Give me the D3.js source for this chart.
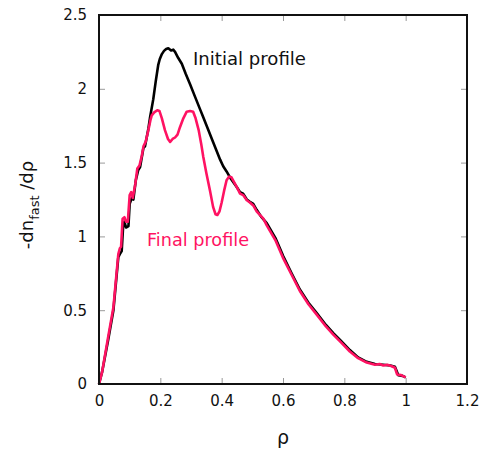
<!DOCTYPE html>
<html><head><meta charset="utf-8">
<script src="https://cdn.jsdelivr.net/npm/d3@7"></script>
<style>body{margin:0;background:#fff}svg{display:block}</style>
</head><body><svg id="c" width="479" height="457"></svg>
<script>
const xTicks = [0, 0.2, 0.4, 0.6, 0.8, 1, 1.2];
const yTicks = [0, 0.5, 1, 1.5, 2, 2.5];

const initialRho = [0,0.01,0.03,0.047,0.063,0.068,0.074,0.079,0.083,0.088,0.096,0.100,0.107,0.112,0.12,0.128,0.134,0.145,0.150,0.161,0.166,0.177,0.185,0.193,0.198,0.205,0.212,0.219,0.226,0.235,0.242,0.248,0.258,0.270,0.283,0.297,0.313,0.329,0.340,0.351,0.370,0.395,0.405,0.416,0.430,0.449,0.46,0.47,0.482,0.492,0.503,0.514,0.530,0.547,0.575,0.601,0.628,0.655,0.683,0.71,0.74,0.764,0.79,0.818,0.845,0.873,0.90,0.927,0.95,0.965,0.976,0.99,1.0];
const initialVal = [0,0.08,0.30,0.50,0.86,0.88,0.90,1.08,1.10,1.06,1.07,1.22,1.26,1.25,1.38,1.45,1.47,1.60,1.61,1.73,1.80,1.93,2.05,2.16,2.20,2.235,2.257,2.27,2.275,2.26,2.265,2.25,2.21,2.17,2.10,2.03,1.947,1.864,1.807,1.75,1.65,1.52,1.475,1.44,1.39,1.335,1.30,1.29,1.25,1.235,1.22,1.18,1.13,1.09,0.99,0.865,0.75,0.64,0.55,0.48,0.40,0.345,0.29,0.23,0.18,0.15,0.135,0.13,0.125,0.117,0.06,0.055,0.045];

const finalRho = [0,0.01,0.03,0.047,0.063,0.068,0.072,0.077,0.083,0.088,0.094,0.100,0.105,0.110,0.118,0.125,0.132,0.140,0.145,0.152,0.161,0.168,0.172,0.180,0.190,0.197,0.205,0.215,0.225,0.232,0.240,0.248,0.256,0.264,0.275,0.286,0.297,0.307,0.315,0.325,0.333,0.340,0.350,0.362,0.372,0.380,0.386,0.393,0.400,0.408,0.416,0.424,0.432,0.440,0.449,0.46,0.47,0.482,0.492,0.503,0.514,0.536,0.547,0.575,0.60,0.628,0.655,0.683,0.71,0.74,0.764,0.79,0.818,0.845,0.873,0.90,0.915,0.927,0.94,0.955,0.965,0.972,0.985,1.0];
const finalVal = [0,0.08,0.32,0.52,0.88,0.92,0.93,1.12,1.13,1.10,1.10,1.28,1.30,1.26,1.35,1.46,1.48,1.55,1.61,1.64,1.72,1.79,1.82,1.84,1.855,1.85,1.80,1.72,1.66,1.64,1.66,1.67,1.69,1.74,1.80,1.845,1.85,1.845,1.80,1.72,1.63,1.54,1.43,1.31,1.20,1.15,1.145,1.17,1.23,1.31,1.38,1.405,1.40,1.37,1.335,1.29,1.28,1.245,1.23,1.21,1.17,1.12,1.075,0.975,0.855,0.74,0.63,0.54,0.47,0.39,0.335,0.28,0.22,0.175,0.145,0.13,0.135,0.125,0.13,0.12,0.11,0.065,0.06,0.045];

const labels = {initial: "Initial profile", final: "Final profile"};
const pink = "#ff1262";

const svg = d3.select("#c");
const L = 99, R = 467, T = 15, B = 384;
const x = d3.scaleLinear().domain([0, 1.2]).range([L, R]);
const y = d3.scaleLinear().domain([0, 2.5]).range([B, T]);
const font = "'DejaVu Sans', Verdana, sans-serif";

// inward ticks on all four sides
const tickLen = 6, tickCol = "#9a9a9a";
svg.append("g").attr("transform", `translate(0,${B})`)
  .call(d3.axisBottom(x).tickValues(xTicks).tickSize(-tickLen).tickPadding(11).tickFormat(d3.format("")))
  .call(g => g.select(".domain").remove())
  .call(g => g.selectAll("line").attr("stroke", tickCol))
  .call(g => g.selectAll("text").attr("font-family", font).attr("font-size", 15).attr("fill", "#111"));
svg.append("g").attr("transform", `translate(0,${T})`)
  .call(d3.axisTop(x).tickValues(xTicks).tickSize(-tickLen).tickFormat(""))
  .call(g => g.select(".domain").remove())
  .call(g => g.selectAll("line").attr("stroke", tickCol));
svg.append("g").attr("transform", `translate(${L},0)`)
  .call(d3.axisLeft(y).tickValues(yTicks).tickSize(-tickLen).tickPadding(12).tickFormat(d3.format("")))
  .call(g => g.select(".domain").remove())
  .call(g => g.selectAll("line").attr("stroke", tickCol))
  .call(g => g.selectAll("text").attr("font-family", font).attr("font-size", 15).attr("fill", "#111"));
svg.append("g").attr("transform", `translate(${R},0)`)
  .call(d3.axisRight(y).tickValues(yTicks).tickSize(-tickLen).tickFormat(""))
  .call(g => g.select(".domain").remove())
  .call(g => g.selectAll("line").attr("stroke", tickCol));

const line = d3.line().x(d => x(d[0])).y(d => y(d[1]));
const initData = initialRho.map((r, i) => [r, initialVal[i]]);
const finalData = finalRho.map((r, i) => [r, finalVal[i]]);

svg.append("path").datum(initData).attr("d", line)
  .attr("fill", "none").attr("stroke", "#000").attr("stroke-width", 2.6).attr("stroke-linejoin", "round");
svg.append("path").datum(finalData).attr("d", line)
  .attr("fill", "none").attr("stroke", pink).attr("stroke-width", 2.6).attr("stroke-linejoin", "round");

// frame
svg.append("rect").attr("x", L).attr("y", T).attr("width", R - L).attr("height", B - T)
  .attr("fill", "none").attr("stroke", "#111").attr("stroke-width", 2);

// labels
svg.append("text").attr("x", 193).attr("y", 64.5).attr("font-family", font).attr("font-size", 17)
  .attr("fill", "#111").attr("textLength", 113).attr("lengthAdjust", "spacingAndGlyphs").text(labels.initial);
svg.append("text").attr("x", 147).attr("y", 246).attr("font-family", font).attr("font-size", 17.5)
  .attr("fill", pink).attr("textLength", 102).attr("lengthAdjust", "spacingAndGlyphs").text(labels.final);

// axis titles
svg.append("text").attr("x", x(0.6)).attr("y", 444).attr("text-anchor", "middle")
  .attr("font-family", font).attr("font-size", 19).attr("fill", "#111").text("ρ");
const yt = svg.append("text").attr("transform", "translate(33,205) rotate(-90)").attr("text-anchor", "middle")
  .attr("font-family", font).attr("font-size", 18).attr("fill", "#111");
yt.append("tspan").text("-dn");
yt.append("tspan").attr("font-size", 13).attr("dy", 6).text("fast");
yt.append("tspan").attr("dy", -6).text(" /dρ");
</script></body></html>
